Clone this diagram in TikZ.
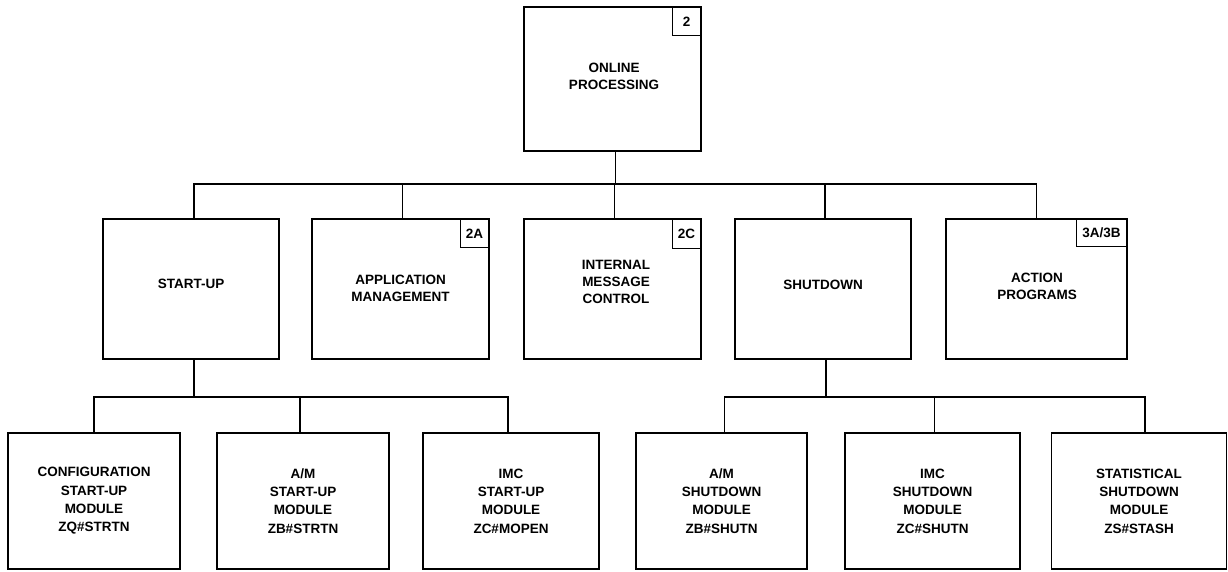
\documentclass[tikz,border=0pt]{standalone}
\usepackage{fontspec}
\setmainfont{Liberation Sans}
\begin{document}
\begin{tikzpicture}[x=1pt,y=-1pt,
  every node/.style={font=\bfseries\fontsize{13.5}{16.7}\selectfont},
  box/.style={draw,line width=1.3pt,rectangle,inner sep=0pt,align=center},
  topbox/.style={box,minimum width=177pt,minimum height=144pt},
  midbox/.style={box,minimum height=140pt},
  lowbox/.style={box,minimum height=136pt,font=\bfseries\fontsize{13.5}{18.3}\selectfont},
  tag/.style={draw,line width=1.1pt,rectangle,inner sep=0pt,minimum height=29pt,minimum width=29pt,anchor=north east},
  conn/.style={line width=1.3pt}]
\fill[white] (0,0) rectangle (1228,571);
\useasboundingbox (0,0) rectangle (1228,571);
% top
\node[topbox] (top) at (612.5,79) {};
\node[align=center] (toptxt) at (614,76) {ONLINE\\PROCESSING};
\node[tag] (toptag) at (top.north east) {2};
% middle row
\node[midbox,minimum width=176pt] (su) at (191,289) {};
\node[midbox,minimum width=177pt] (am) at (400.5,289) {};
\node[midbox,minimum width=177pt] (imc) at (612.5,289) {};
\node[midbox,minimum width=176pt] (sd) at (823,289) {};
\node[midbox,minimum width=181pt] (ap) at (1036.5,289) {};
\node[align=center] (sutxt) at (191,284) {START-UP};
\node[align=center] (amtxt) at (400.5,288) {APPLICATION\\MANAGEMENT};
\node[align=center] (imctxt) at (616,282) {INTERNAL\\MESSAGE\\CONTROL};
\node[align=center] (sdtxt) at (823,285) {SHUTDOWN};
\node[align=center] (aptxt) at (1037,286) {ACTION\\PROGRAMS};
\node[tag] (amtag) at (am.north east) {2A};
\node[tag,minimum height=30pt] (imctag) at (imc.north east) {2C};
\node[tag,minimum width=51pt,minimum height=28pt] (aptag) at (ap.north east) {3A/3B};
% bottom row
\node[lowbox,minimum width=172pt] (b1) at (94,501) {CONFIGURATION\\START-UP\\MODULE\\ZQ\#STRTN};
\node[lowbox,minimum width=172pt] (b2) at (303,501) {A/M\\START-UP\\MODULE\\ZB\#STRTN};
\node[lowbox,minimum width=176pt] (b3) at (511,501) {IMC\\START-UP\\MODULE\\ZC\#MOPEN};
\node[lowbox,minimum width=171pt] (b4) at (721.5,501) {A/M\\SHUTDOWN\\MODULE\\ZB\#SHUTN};
\node[lowbox,minimum width=175pt] (b5) at (932.5,501) {IMC\\SHUTDOWN\\MODULE\\ZC\#SHUTN};
\node[lowbox,minimum width=175pt] (b6) at (1139,501) {STATISTICAL\\SHUTDOWN\\MODULE\\ZS\#STASH};
% buses
\coordinate (bus1) at (0,184);
\coordinate (bus2) at (0,397);
\draw[conn] ([xshift=3pt]top.south) -- ([xshift=3pt]top.south |- bus1);
\draw[conn] ([xshift=3pt]su.north) -- ([xshift=3pt]su.north |- bus1) -- (ap.north |- bus1) -- (ap.north);
\foreach \n in {am,imc,sd} \draw[conn] ([xshift=2pt]\n.north) -- ([xshift=2pt]\n.north |- bus1);
\draw[conn] ([xshift=3pt]su.south) -- ([xshift=3pt]su.south |- bus2);
\draw[conn] (b1.north) -- (b1.north |- bus2) -- ([xshift=-3pt]b3.north |- bus2) -- ([xshift=-3pt]b3.north);
\draw[conn] ([xshift=-3pt]b2.north) -- ([xshift=-3pt]b2.north |- bus2);
\draw[conn] ([xshift=3pt]sd.south) -- ([xshift=3pt]sd.south |- bus2);
\draw[conn] ([xshift=3pt]b4.north) -- ([xshift=3pt]b4.north |- bus2) -- ([xshift=6pt]b6.north |- bus2) -- ([xshift=6pt]b6.north);
\draw[conn] ([xshift=2pt]b5.north) -- ([xshift=2pt]b5.north |- bus2);
\end{tikzpicture}
\end{document}
